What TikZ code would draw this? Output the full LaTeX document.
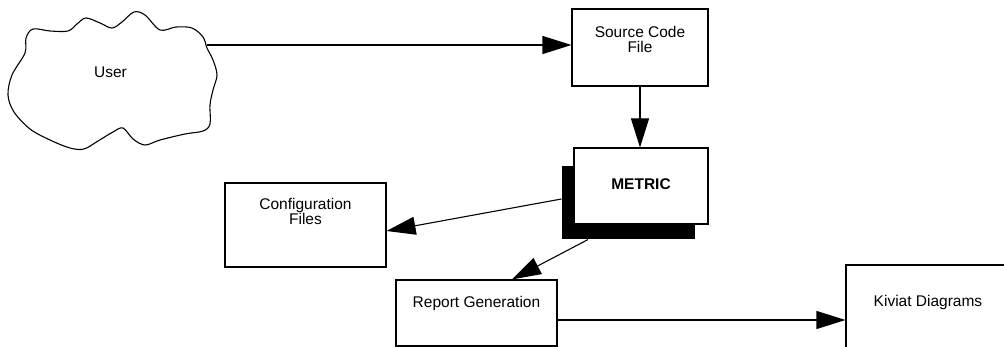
\documentclass[tikz,border=0pt]{standalone}
\usepackage{fontspec}
\setmainfont{Liberation Sans}
\usetikzlibrary{arrows.meta}
\begin{document}
\begin{tikzpicture}[x=1pt,y=-1pt,
  line width=1.1pt,
  box/.style={draw, fill=white, inner sep=0pt},
  shadowbox/.style={fill=black, inner sep=0pt},
  txt/.style={font=\fontsize{15.5}{14.5}\selectfont, align=center, anchor=north, inner sep=0pt},
  flow/.style={-{Triangle[length=29pt,width=18pt]}}]
\useasboundingbox (0,0) rectangle (1004,347);
\clip (0,0) rectangle (1004,347);

% user cloud
\draw[line width=1.1pt] plot[smooth cycle, tension=0.55] coordinates {
  (25,53) (26,38) (33,29) (50,31) (68,31) (77,24) (86,18) (100,23) (112,28)
  (122,22) (134,12) (145,15) (160,30) (176,27) (192,28) (203,37) (207,48)
  (213,60) (217,75) (213,90) (210,105) (210,124) (203,131) (185,134)
  (160,140) (145,145) (133,139) (123,128) (113,132) (98,141) (84,149)
  (70,148) (50,140) (30,129) (14,112) (8,95) (12,75)};
\coordinate (userport) at (207,45);
\node[txt] (usertxt) at (110.5,66.5) {User};

% boxes
\node[box, minimum width=136pt, minimum height=77pt] (scf) at (640,47.5) {};
\node[shadowbox, minimum width=133pt, minimum height=73pt] (shadow) at (628.5,202.5) {};
\node[box, minimum width=134pt, minimum height=76pt] (metric) at (641,186) {};
\node[box, minimum width=161pt, minimum height=84pt] (cfg) at (305.5,225) {};
\node[box, minimum width=161pt, minimum height=66pt] (rep) at (476.5,313) {};
\node[box, minimum width=164pt, minimum height=95pt] (kiv) at (928,312.5) {};

% labels
\node[txt] (scftxt) at (640,26) {Source Code\\File};
\node[txt, font=\fontsize{15.5}{14.5}\selectfont\bfseries] (metrictxt) at (641,178) {METRIC};
\node[txt] (cfgtxt) at (305.5,198) {Configuration\\Files};
\node[txt] (reptxt) at (476.5,296) {Report Generation};
\node[txt] (kivtxt) at (928,295) {Kiviat Diagrams};

% connectors
\draw[flow] (userport) -- (userport -| scf.west);
\draw[flow] (scf.south) -- (scf.south |- metric.north);
\draw[flow] ([yshift=3.5pt]shadow.west) -- ([yshift=-6pt]cfg.east);
\draw[flow] ([xshift=-40.5pt]shadow.south) -- ([xshift=35.5pt]rep.north);
\draw[flow] ([yshift=-7pt]rep.east) -- ([yshift=-7pt]rep.east -| kiv.west);
\end{tikzpicture}
\end{document}
